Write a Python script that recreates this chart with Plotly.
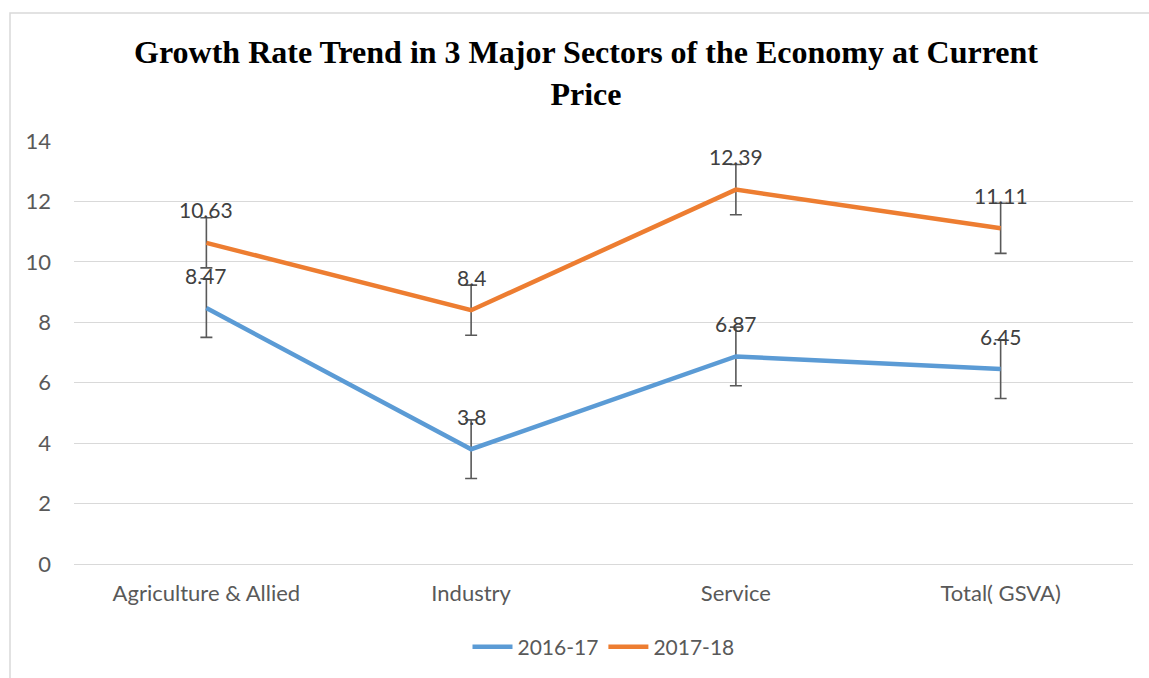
import plotly.graph_objects as go

categories = ["Agriculture & Allied", "Industry", "Service", "Total( GSVA)"]
series_names = ["2016-17", "2017-18"]
values_2016 = [8.47, 3.8, 6.87, 6.45]
values_2017 = [10.63, 8.4, 12.39, 11.11]
err_2016 = [0.97, 0.97, 0.97, 0.97]
err_2017 = [0.83, 0.83, 0.83, 0.83]
y_ticks = [0, 2, 4, 6, 8, 10, 12, 14]

colors = ["#5B9BD5", "#ED7D31"]
font_family = "Lato, Carlito, Calibri, sans-serif"

W, H = 1149, 678
ml, mr, mt, mb = 74, 16, 141, 114

fig = go.Figure()
for name, vals, errs, col in [
    (series_names[0], values_2016, err_2016, colors[0]),
    (series_names[1], values_2017, err_2017, colors[1]),
]:
    fig.add_trace(go.Scatter(
        x=list(range(len(categories))), y=vals, name=name, mode="lines",
        line=dict(color=col, width=4.5),
        error_y=dict(type="data", array=errs, visible=True,
                     color="#595959", thickness=1.6, width=6),
    ))
    for i, v in enumerate(vals):
        fig.add_annotation(x=i, y=v, text=str(v), showarrow=False,
                           yshift=33, font=dict(family=font_family, size=21, color="#404040"))

pw = W - ml - mr
ph = H - mt - mb
fig.add_shape(type="rect", xref="paper", yref="paper",
              x0=(10 - ml) / pw, x1=(W + 20 - ml) / pw,
              y0=-(H + 20 - mt - ph) / ph, y1=(H - mb - 13) / ph,
              line=dict(color="#D9D9D9", width=1.5), fillcolor="rgba(0,0,0,0)", layer="below")

fig.update_layout(
    width=W, height=H,
    margin=dict(l=ml, r=mr, t=mt, b=mb, autoexpand=False),
    paper_bgcolor="white", plot_bgcolor="white",
    title=dict(text="<b>Growth Rate Trend in 3 Major Sectors of the Economy at Current<br>Price</b>",
               x=586 / W, xanchor="center", y=1 - 63 / H, yanchor="top",
               font=dict(family="Liberation Serif, Times New Roman, serif", size=32, color="black")),
    xaxis=dict(range=[-0.5, len(categories) - 0.5], tickmode="array",
               tickvals=list(range(len(categories))), ticktext=categories,
               showgrid=False, zeroline=False, showline=False, ticks="",
               tickfont=dict(family=font_family, size=22, color="#595959"),
               ticklabelstandoff=14),
    yaxis=dict(range=[0, 14], tickmode="array", tickvals=y_ticks,
               showgrid=True, gridcolor="#D9D9D9", gridwidth=1,
               zeroline=True, zerolinecolor="#D9D9D9", zerolinewidth=1,
               showline=False, ticks="",
               tickfont=dict(family=font_family, size=22, color="#595959"),
               ticklabelstandoff=22),
    legend=dict(orientation="h", x=0.5, xanchor="center", y=-(647 - 564) / ph, yanchor="middle",
                font=dict(family=font_family, size=21, color="#595959"),
                itemwidth=40, tracegroupgap=0),
    showlegend=True,
)

fig.write_html("out.html")
